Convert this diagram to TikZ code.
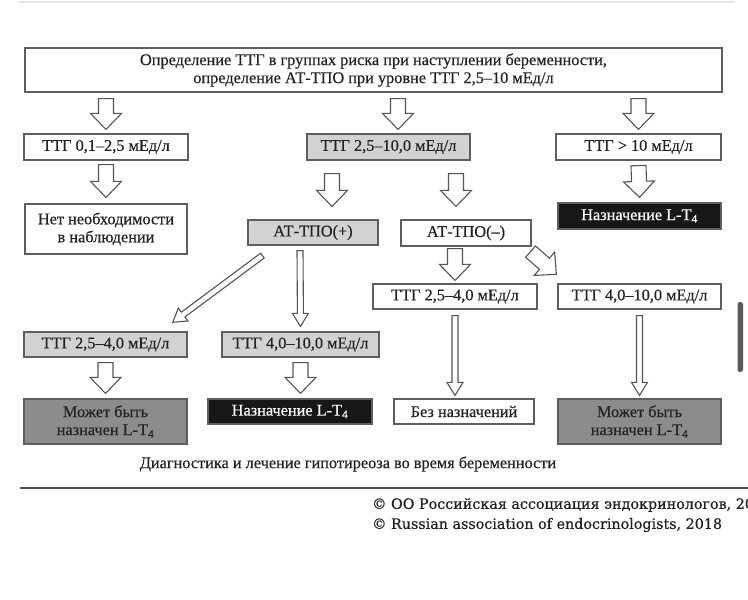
\documentclass[tikz,border=0pt]{standalone}
\usepackage{fontspec}
\setmainfont{Liberation Serif}[FakeBold=0.4]
\newfontfamily\copyfont{DejaVu Serif}[FakeBold=0.6]
\usetikzlibrary{calc}
\definecolor{bord}{HTML}{5E5E5E}
\definecolor{txt}{HTML}{222222}
\definecolor{lgray}{HTML}{D2D2D2}
\definecolor{dgray}{HTML}{8C8C8C}
\definecolor{blk}{HTML}{171717}
\definecolor{arr}{HTML}{555555}
\definecolor{rule}{HTML}{505050}
\definecolor{topline}{HTML}{E4E4E4}
\definecolor{scroll}{HTML}{5A5A5A}
\newcommand\blockarrow[6]{%
  \path let \p1=(#2), \p2=(#3) in \pgfextra{%
    \pgfmathsetmacro\baAng{atan2((\y2)-(\y1),(\x2)-(\x1))}%
    \pgfmathsetmacro\baLen{veclen((\x2)-(\x1),(\y2)-(\y1))}%
    \pgfmathsetmacro\baBase{\baLen-#6}%
    \pgfmathsetmacro\baX{\x1}%
    \pgfmathsetmacro\baY{\y1}%
    \xdef\BAang{\baAng}\xdef\BAlen{\baLen}\xdef\BAbase{\baBase}%
    \xdef\BAx{\baX}\xdef\BAy{\baY}};
  \draw[#1,shift={(\BAx pt,\BAy pt)},rotate=\BAang]
    (0pt,#4pt) -- (\BAbase pt,#4pt) -- (\BAbase pt,#5pt) -- (\BAlen pt,0pt)
    -- (\BAbase pt,-#5pt) -- (\BAbase pt,-#4pt) -- (0pt,-#4pt) -- cycle;}
\newcommand\bigarrow[2]{\blockarrow{arrowline}{#1}{#2}{7.5}{15.5}{16}}
\newcommand\thinarrow[2]{\blockarrow{arrowline}{#1}{#2}{3}{8}{13}}
\begin{document}
\begin{tikzpicture}[x=1pt,y=-1pt,
  box/.style={draw=bord, line width=1.2pt, text=txt, inner sep=0pt,
    align=center, font=\fontsize{16.3}{18}\selectfont},
  whitebox/.style={box, fill=white},
  lightbox/.style={box, fill=lgray},
  darkbox/.style={box, fill=dgray},
  blackbox/.style={box, fill=blk, text=white},
  arrowline/.style={draw=arr, line width=1.1pt, fill=white, line join=miter},
  plain/.style={text=txt, inner sep=0pt, font=\fontsize{16.3}{18}\selectfont},
  copyr/.style={text=txt, inner sep=0pt, anchor=west, font=\copyfont\fontsize{14.3}{16}\selectfont}]
\path[use as bounding box] (0,0) rectangle (748,600);
\clip (0,0) rectangle (748,600);
\fill[white] (0,0) rectangle (748,600);
\draw[topline, line width=2pt] (19,2) -- (735,2);

% nodes
\node[whitebox, minimum width=697pt, minimum height=44pt] (top) at (373.5,70)
  {Определение ТТГ в группах риска при наступлении беременности,\\
   определение АТ-ТПО при уровне ТТГ 2,5--10 мЕд/л};
\node[whitebox, minimum width=164pt, minimum height=26pt] (r2a) at (106,147) {ТТГ 0,1--2,5 мЕд/л};
\node[lightbox, minimum width=163pt, minimum height=26pt] (r2b) at (388.5,147) {ТТГ 2,5--10,0 мЕд/л};
\node[whitebox, minimum width=165pt, minimum height=26pt] (r2c) at (638.5,147) {ТТГ > 10 мЕд/л};
\node[whitebox, minimum width=162pt, minimum height=50pt] (r3a) at (106,229) {Нет необходимости\\в наблюдении};
\node[lightbox, minimum width=130pt, minimum height=25pt] (r3b) at (313,232.5) {АТ-ТПО(+)};
\node[whitebox, minimum width=130pt, minimum height=26pt] (r3c) at (466,233) {АТ-ТПО(--)};
\node[blackbox, minimum width=163pt, minimum height=26pt] (r3d) at (639.5,216) {Назначение L-T\textsubscript{4}};
\node[whitebox, minimum width=164pt, minimum height=25pt] (r4c) at (455,296.5) {ТТГ 2,5--4,0 мЕд/л};
\node[whitebox, minimum width=163pt, minimum height=25pt] (r4d) at (639.5,296.5) {ТТГ 4,0--10,0 мЕд/л};
\node[lightbox, minimum width=163pt, minimum height=25pt] (r4a) at (105.5,344.5) {ТТГ 2,5--4,0 мЕд/л};
\node[lightbox, minimum width=157pt, minimum height=25pt] (r4b) at (300.5,344.5) {ТТГ 4,0--10,0 мЕд/л};
\node[darkbox, minimum width=163pt, minimum height=45pt] (r5a) at (105.5,421.5) {Может быть\\назначен L-T\textsubscript{4}};
\node[blackbox, minimum width=164pt, minimum height=25pt] (r5b) at (290,411.5) {Назначение L-T\textsubscript{4}};
\node[whitebox, minimum width=140pt, minimum height=25pt] (r5c) at (464,411.5) {Без назначений};
\node[darkbox, minimum width=163pt, minimum height=45pt] (r5d) at (639.5,421.5) {Может быть\\назначен L-T\textsubscript{4}};

\node[plain] (cap) at (348,464) {Диагностика и лечение гипотиреоза во время беременности};
\draw[rule, line width=2.5pt] (20,488) -- (748,488);
\node[copyr] (c1) at (372,505) {© ОО Российская ассоциация эндокринологов, 2018};
\node[copyr] (c2) at (372,525) {© Russian association of endocrinologists, 2018};

% scrollbar
\fill[scroll, rounded corners=2.5pt] (737.5,302) rectangle (743,372);

% arrows
\bigarrow{$(top.south -| r2a.north)+(0,6)$}{$(r2a.north)+(0,-4)$}
\bigarrow{$(top.south -| r2b.north)+(9.5,6)$}{$(r2b.north)+(9.5,-4)$}
\bigarrow{$(top.south -| r2c.north)+(0,6)$}{$(r2c.north)+(0,-4)$}
\bigarrow{$(r2a.south)+(0,4)$}{$(r3a.north)+(0,-6)$}
\bigarrow{$(r2b.south)+(-56.5,13)$}{$(r3b.north)+(19,-13)$}
\bigarrow{$(r2b.south)+(67.5,13)$}{$(r3c.north)+(-10,-13)$}
\bigarrow{$(r2c.south)+(0,5)$}{$(r3d.north)+(0,-5)$}
\bigarrow{$(r3c.south -| r4c.north)+(0,2)$}{$(r4c.north)+(0,-3)$}
\bigarrow{$(r3c.south east)+(-1,5)$}{$(r4d.north west)+(-1,-9)$}
\bigarrow{$(r4a.south)+(0,5)$}{$(r5a.north)+(0,-5)$}
\bigarrow{$(r4b.south)+(0,5)$}{$(r4b.south |- r5b.north)+(0,-5)$}
\thinarrow{$(r3b.south)+(-13,5)$}{$(r4b.north)+(0,-5)$}
\thinarrow{$(r3b.south west)+(15,10)$}{$(r4a.north east)+(-15,-9)$}
\thinarrow{$(r4c.south)+(0,6)$}{$(r4c.south |- r5c.north)+(0,-3)$}
\thinarrow{$(r4d.south)+(0,6)$}{$(r5d.north)+(0,-3)$}
\end{tikzpicture}
\end{document}
